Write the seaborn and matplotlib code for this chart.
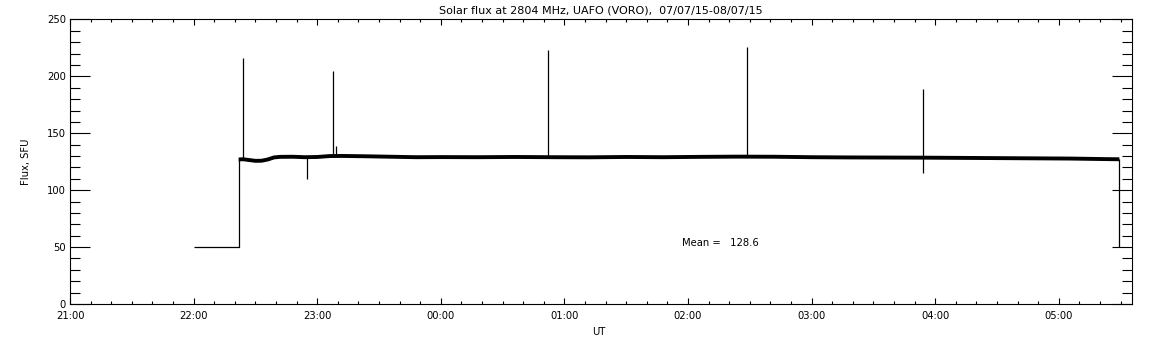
import numpy as np
import pandas as pd
import matplotlib
matplotlib.use("Agg")
import matplotlib.pyplot as plt
import seaborn as sns
from matplotlib.ticker import MultipleLocator, FixedLocator

# times are hours after 21:00 UT
hour_labels = ["21:00", "22:00", "23:00", "00:00", "01:00", "02:00", "03:00", "04:00", "05:00"]

# calibration level before / after the observation
pre_t = [1.0, 1.364, 1.364]
pre_flux = [50, 50, 127]
post_t = [8.49, 8.49]
post_flux = [127, 50]

# quiet-sun level (band center)
base_t = [1.364, 1.40, 1.45, 1.50, 1.55, 1.60, 1.65, 1.70, 1.80, 1.90, 2.00, 2.10,
          2.20, 2.40, 2.60, 2.80, 3.00, 3.30, 3.60, 3.90, 4.20, 4.50, 4.80, 5.10,
          5.40, 5.70, 6.00, 6.30, 6.60, 6.90, 7.20, 7.50, 7.80, 8.10, 8.40, 8.49]
base_flux = [127.0, 127.2, 126.5, 125.8, 125.9, 127.0, 128.8, 129.3, 129.4, 129.0, 129.2, 130.0,
             130.1, 129.8, 129.4, 129.0, 129.1, 129.0, 129.2, 129.0, 128.9, 129.2, 129.0, 129.3,
             129.5, 129.4, 129.0, 128.8, 128.7, 128.6, 128.4, 128.2, 128.0, 127.8, 127.3, 127.2]

# bursts / interference spikes
spike_t = [1.397, 1.914, 2.125, 2.15, 3.87, 5.48, 6.90, 6.903]
spike_foot = [127, 129, 129.5, 130, 129, 129.5, 128.6, 128.6]
spike_peak = [216, 110, 205, 139, 223, 226, 189, 115]

mean_flux = 128.6

sns.set_style("ticks")
plt.rcParams['font.family'] = ['DejaVu Sans']
plt.rcParams['axes.linewidth'] = 0.8
plt.rcParams['text.color'] = 'black'
plt.rcParams['axes.labelcolor'] = 'black'
plt.rcParams['lines.solid_capstyle'] = 'butt'

fig = plt.figure(figsize=(11.52, 3.45), dpi=100)
ax = fig.add_axes([0.0608, 0.1188, 0.9216, 0.8247])

sns.lineplot(x=pre_t, y=pre_flux, ax=ax, color="black", lw=0.9, sort=False, estimator=None)
sns.lineplot(x=post_t, y=post_flux, ax=ax, color="black", lw=0.9, sort=False, estimator=None)
sns.lineplot(x=base_t, y=base_flux, ax=ax, color="black", lw=2.8, sort=False, estimator=None)

spikes = pd.DataFrame({
    "t": np.repeat(spike_t, 2),
    "flux": np.ravel(np.column_stack([spike_foot, spike_peak])),
    "id": np.repeat(np.arange(len(spike_t)), 2),
})
sns.lineplot(data=spikes, x="t", y="flux", units="id", estimator=None, ax=ax,
             color="black", lw=0.9, sort=False)
for ln in ax.lines:
    ln.set_solid_capstyle("butt")

ax.text(4.95, 54, "Mean =   %.1f" % mean_flux, fontsize=7.2, va="center", ha="left", color="black")

ax.set_xlim(0, 8.59)
ax.set_ylim(0, 250)
ax.xaxis.set_major_locator(FixedLocator(range(len(hour_labels))))
ax.set_xticklabels(hour_labels)
ax.xaxis.set_minor_locator(MultipleLocator(1 / 6))
ax.yaxis.set_major_locator(MultipleLocator(50))
ax.yaxis.set_minor_locator(MultipleLocator(10))

ax.tick_params(direction="in", top=True, right=True, which="both", width=0.8,
               labelsize=7.2, colors="black")
ax.tick_params(axis="x", which="major", length=4.5, pad=5)
ax.tick_params(axis="x", which="minor", length=2.3)
ax.tick_params(axis="y", which="major", length=14.5, pad=3)
ax.tick_params(axis="y", which="minor", length=7.2)
for s in ax.spines.values():
    s.set_color("black")

ax.set_title("Solar flux at 2804 MHz, UAFO (VORO),  07/07/15-08/07/15", fontsize=8, pad=4, color="black")
ax.set_xlabel("UT", fontsize=7.2)
ax.set_ylabel("Flux, SFU", fontsize=7.2)
ax.xaxis.set_label_coords(0.498, -0.081)
ax.yaxis.set_label_coords(-0.037, 0.5)

fig.savefig("out.png", dpi=100, facecolor="white")
